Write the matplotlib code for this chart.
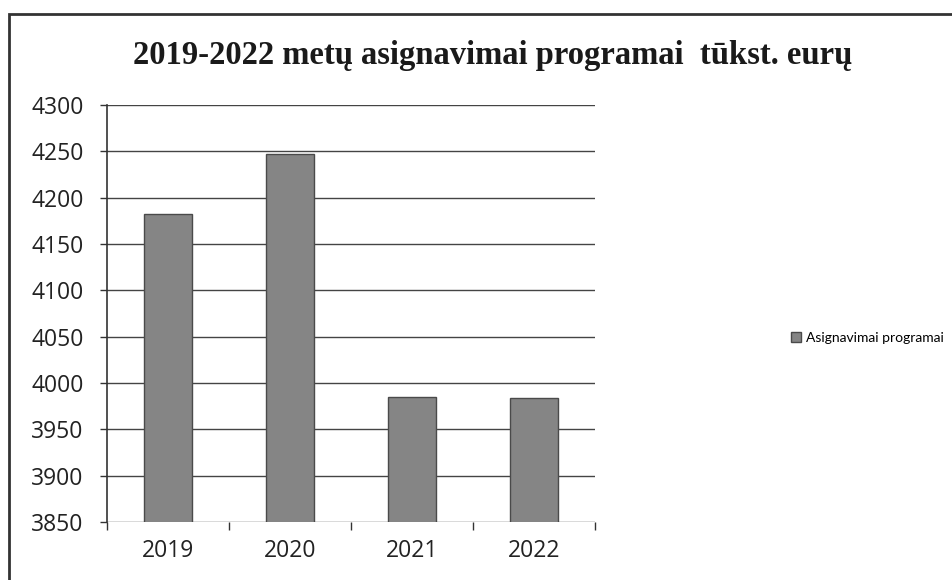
import matplotlib.pyplot as plt
import matplotlib.patches as patches

years = ['2019', '2020', '2021', '2022']
values = [4182, 4247, 3985, 3984]
yticks = [3850, 3900, 3950, 4000, 4050, 4100, 4150, 4200, 4250, 4300]

fig = plt.figure(figsize=(9.52, 5.8), dpi=100)
ax = fig.add_axes([0.1124, 0.1, 0.5126, 0.719])

ax.bar(range(len(years)), values, width=0.4, color='#858585',
       edgecolor='#4a4a4a', linewidth=1.0, zorder=3,
       label='Asignavimai programai')

ax.set_ylim(3850, 4300)
ax.set_xlim(-0.5, 3.5)
ax.set_yticks(yticks)
ax.set_xticks(range(len(years)))
ax.set_xticklabels(years)
ax.set_xticks([-0.5, 0.5, 1.5, 2.5, 3.5], minor=True)

tick_font = 'Open Sans'
for lab in ax.get_xticklabels() + ax.get_yticklabels():
    lab.set_fontfamily(tick_font)
    lab.set_fontsize(16.5)
    lab.set_color('#222222')

ax.tick_params(axis='x', which='major', length=0, pad=12)
ax.tick_params(axis='x', which='minor', length=6, width=1, color='#333333')
ax.tick_params(axis='y', length=5, width=1, color='#333333', pad=12)

ax.grid(axis='y', color='#444444', linewidth=1.0, zorder=0)
for s in ['top', 'right', 'bottom']:
    ax.spines[s].set_visible(False)
ax.spines['left'].set_color('#333333')
ax.spines['left'].set_linewidth(1.2)

fig.text(0.517, 0.905, '2019-2022 metų asignavimai programai  tūkst. eurų',
         ha='center', va='center', fontsize=23.5, fontweight='bold',
         family='Liberation Serif', color='#1a1a1a')

leg = fig.legend(loc='center left', bbox_to_anchor=(0.818, 0.418),
                 frameon=False, handlelength=0.7, handleheight=0.7,
                 handletextpad=0.35, prop={'family': 'Lato', 'size': 10})

# scanned-page frame
fig.patches.append(patches.Rectangle((9 / 952, -0.2), 1.2, 1 - 14 / 580 + 0.2,
                                     transform=fig.transFigure, fill=False,
                                     edgecolor='#333333', linewidth=2))

fig.savefig('out.png', dpi=100)
